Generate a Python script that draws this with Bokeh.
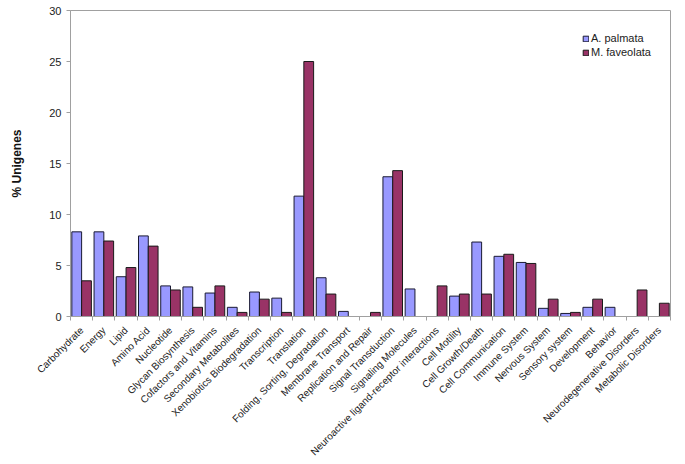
import math
from bokeh.plotting import figure
from bokeh.models import Range1d, FixedTicker, Legend, LegendItem, ColumnDataSource
from bokeh.embed import file_html
from bokeh.resources import INLINE

categories = ["Carbohydrate", "Energy", "Lipid", "Amino Acid", "Nucleotide",
              "Glycan Biosynthesis", "Cofactors and Vitamins", "Secondary Metabolites",
              "Xenobiotics Biodegradation", "Transcription", "Translation",
              "Folding, Sorting, Degradation", "Membrane Transport", "Replication and Repair",
              "Signal Transduction", "Signaling Molecules",
              "Neuroactive ligand-receptor interactions", "Cell Motility", "Cell Growth/Death",
              "Cell Communication", "Immune System", "Nervous System", "Sensory system",
              "Development", "Behavior", "Neurodegenerative Disorders", "Metabolic Disorders"]
a_palmata = [8.3, 8.3, 3.9, 7.9, 3.0, 2.9, 2.3, 0.9, 2.4, 1.8, 11.8, 3.8, 0.5, 0.0,
             13.7, 2.7, 0.0, 2.0, 7.3, 5.9, 5.3, 0.8, 0.3, 0.9, 0.9, 0.0, 0.0]
m_faveolata = [3.5, 7.4, 4.8, 6.9, 2.6, 0.9, 3.0, 0.4, 1.7, 0.4, 25.0, 2.2, 0.0, 0.4,
               14.3, 0.0, 3.0, 2.2, 2.2, 6.1, 5.2, 1.7, 0.4, 1.7, 0.0, 2.6, 1.3]
series_names = ["A. palmata", "M. faveolata"]
y_ticks = [0, 5, 10, 15, 20, 25, 30]

n = len(categories)
centers = [i + 0.5 for i in range(n)]
bw = 0.44
src = ColumnDataSource(dict(
    xa=[c - bw / 2 for c in centers],
    xm=[c + bw / 2 for c in centers],
    a=a_palmata, m=m_faveolata))

p = figure(width=680, height=464, output_backend="svg",
           toolbar_location=None, x_range=Range1d(0, n), y_range=Range1d(0, 30),
           min_border_left=70, min_border_top=10, min_border_right=10, min_border_bottom=10)

ra = p.vbar(x="xa", top="a", width=bw, source=src, fill_color="#9999FF",
            line_color="#1a1a33", line_width=1)
rm = p.vbar(x="xm", top="m", width=bw, source=src, fill_color="#993366",
            line_color="#1a1a1a", line_width=1)

p.xgrid.visible = False
p.ygrid.visible = False
p.outline_line_color = "#a0a0a0"
p.outline_line_width = 1

# x axis
p.xaxis.ticker = FixedTicker(ticks=centers, minor_ticks=list(range(n + 1)))
p.xaxis.major_label_overrides = {c: name for c, name in zip(centers, categories)}
p.xaxis.major_label_orientation = math.pi / 4
p.xaxis.major_tick_line_color = None
p.xaxis.major_tick_out = 0
p.xaxis.major_tick_in = 0
p.xaxis.minor_tick_line_color = "#a0a0a0"
p.xaxis.minor_tick_out = 4
p.xaxis.minor_tick_in = 0
p.xaxis.axis_line_color = "#a0a0a0"
p.xaxis.major_label_text_font = "Liberation Sans"
p.xaxis.major_label_text_font_size = "10px"
p.xaxis.major_label_text_color = "#222222"
p.xaxis.major_label_standoff = 8

# y axis
p.yaxis.ticker = FixedTicker(ticks=y_ticks)
p.yaxis.minor_tick_line_color = None
p.yaxis.major_tick_line_color = "#a0a0a0"
p.yaxis.major_tick_out = 4
p.yaxis.major_tick_in = 0
p.yaxis.axis_line_color = "#a0a0a0"
p.yaxis.major_label_text_font = "Liberation Sans"
p.yaxis.major_label_text_font_size = "11px"
p.yaxis.major_label_text_color = "#222222"
p.yaxis.major_label_standoff = 5
p.yaxis.axis_label = "% Unigenes"
p.yaxis.axis_label_text_font = "Liberation Sans"
p.yaxis.axis_label_text_font_style = "bold"
p.yaxis.axis_label_text_font_size = "12px"
p.yaxis.axis_label_text_color = "#111111"
p.yaxis.axis_label_standoff = 22

legend = Legend(items=[LegendItem(label=series_names[0], renderers=[ra]),
                       LegendItem(label=series_names[1], renderers=[rm])],
                location=(512, 258), orientation="vertical")
legend.border_line_color = None
legend.background_fill_alpha = 0
legend.padding = 2
legend.spacing = 2
legend.label_standoff = 2
legend.glyph_width = 7
legend.glyph_height = 7
legend.label_height = 12
legend.label_text_font = "Liberation Sans"
legend.label_text_font_size = "11px"
legend.label_text_color = "#222222"
p.add_layout(legend, "center")

open("out.html", "w").write(file_html(p, INLINE))
